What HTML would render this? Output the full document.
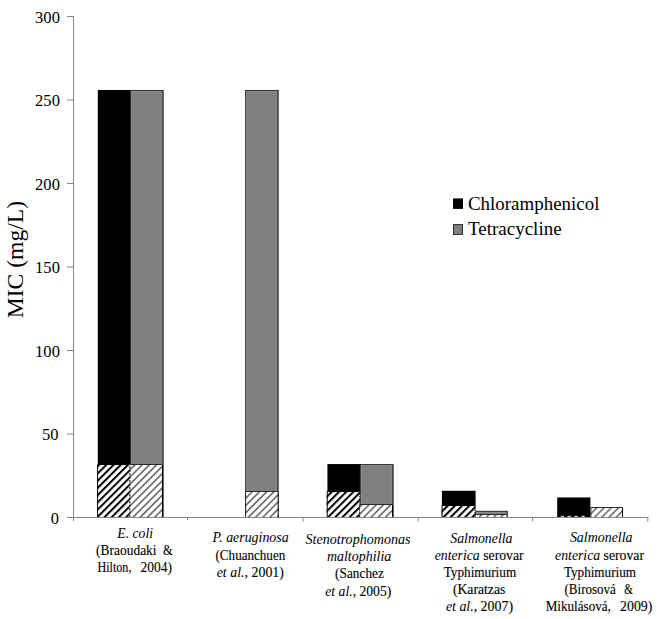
<!DOCTYPE html>
<html><head><meta charset="utf-8"><style>
html,body{margin:0;padding:0;background:#fff;}
svg{display:block;font-family:"Liberation Serif",serif;}
text[id]{stroke:#000;stroke-width:0.12px;}
text[id] tspan[font-style=italic]{stroke:none;}
</style></head><body>
<svg width="663" height="619" viewBox="0 0 663 619">
<defs>
<pattern id="hb" patternUnits="userSpaceOnUse" width="5.1" height="5.1" patternTransform="rotate(-45)">
<rect x="0" y="0" width="5.1" height="2.0" fill="#000"/><rect x="0" y="2.0" width="5.1" height="3.1" fill="#fff"/>
</pattern>
<pattern id="hg" patternUnits="userSpaceOnUse" width="5.1" height="5.1" patternTransform="rotate(-45)">
<rect x="0" y="0" width="5.1" height="1.6" fill="#666"/><rect x="0" y="1.6" width="5.1" height="3.5" fill="#fff"/>
</pattern>
</defs>
<rect width="663" height="619" fill="#fff"/>
<rect x="97.80" y="89.98" width="33.30" height="427.52" fill="#000"/>
<rect x="130.10" y="89.98" width="33.60" height="427.52" fill="#2e2e2e"/>
<rect x="131.10" y="90.98" width="31.20" height="426.52" fill="#8e8e8e"/>
<rect x="132.10" y="91.98" width="29.40" height="425.52" fill="#808080"/>
<rect x="245.10" y="89.98" width="33.60" height="427.52" fill="#2e2e2e"/>
<rect x="246.10" y="90.98" width="31.20" height="426.52" fill="#8e8e8e"/>
<rect x="247.10" y="91.98" width="29.40" height="425.52" fill="#808080"/>
<rect x="327.40" y="464.06" width="33.40" height="53.44" fill="#000"/>
<rect x="359.80" y="464.06" width="33.90" height="53.44" fill="#2e2e2e"/>
<rect x="360.80" y="465.06" width="31.50" height="52.44" fill="#8e8e8e"/>
<rect x="361.80" y="466.06" width="29.70" height="51.44" fill="#808080"/>
<rect x="441.90" y="490.78" width="33.70" height="26.72" fill="#000"/>
<rect x="475.00" y="510.82" width="32.90" height="6.68" fill="#2e2e2e"/>
<rect x="476.00" y="511.82" width="30.50" height="5.68" fill="#8e8e8e"/>
<rect x="477.00" y="512.82" width="28.70" height="4.68" fill="#808080"/>
<rect x="557.20" y="497.46" width="33.20" height="20.04" fill="#000"/>
<rect x="97.10" y="464.00" width="33.30" height="53.50" fill="url(#hb)"/>
<path d="M97.60,517.50V464.50H129.90" fill="none" stroke="#000" stroke-width="1"/>
<path d="M129.90,464.50V517.50" fill="none" stroke="#222" stroke-width="1" stroke-dasharray="1.2 1"/>
<rect x="129.40" y="464.00" width="33.60" height="53.50" fill="url(#hg)"/>
<path d="M129.90,517.50V464.50" fill="none" stroke="#1a1a1a" stroke-width="1" stroke-dasharray="2.5 1"/>
<path d="M129.90,464.50H162.50" fill="none" stroke="#2a2a2a" stroke-width="1"/>
<path d="M162.50,464.50V517.50" fill="none" stroke="#000" stroke-width="1"/>
<rect x="245.10" y="491.00" width="33.60" height="26.50" fill="url(#hg)"/>
<path d="M245.60,517.50V491.50" fill="none" stroke="#1a1a1a" stroke-width="1"/>
<path d="M245.60,491.50H278.20" fill="none" stroke="#2a2a2a" stroke-width="1"/>
<path d="M278.20,491.50V517.50" fill="none" stroke="#000" stroke-width="1"/>
<rect x="326.70" y="491.00" width="33.40" height="26.50" fill="url(#hb)"/>
<path d="M327.20,517.50V491.50H359.60" fill="none" stroke="#000" stroke-width="1"/>
<path d="M359.60,491.50V517.50" fill="none" stroke="#222" stroke-width="1" stroke-dasharray="1.2 1"/>
<rect x="359.10" y="504.00" width="33.90" height="13.50" fill="url(#hg)"/>
<path d="M359.60,517.50V504.50" fill="none" stroke="#1a1a1a" stroke-width="1" stroke-dasharray="2.5 1"/>
<path d="M359.60,504.50H392.50" fill="none" stroke="#2a2a2a" stroke-width="1"/>
<path d="M392.50,504.50V517.50" fill="none" stroke="#000" stroke-width="1"/>
<rect x="441.60" y="505.00" width="33.70" height="12.50" fill="url(#hb)"/>
<path d="M442.10,517.50V505.50H474.80" fill="none" stroke="#000" stroke-width="1"/>
<path d="M474.80,505.50V517.50" fill="none" stroke="#222" stroke-width="1" stroke-dasharray="1.2 1"/>
<rect x="474.70" y="514.00" width="32.90" height="3.50" fill="url(#hg)"/>
<path d="M475.20,517.50V514.50" fill="none" stroke="#1a1a1a" stroke-width="1" stroke-dasharray="2.5 1"/>
<path d="M475.20,514.50H507.10" fill="none" stroke="#2a2a2a" stroke-width="1"/>
<path d="M507.10,514.50V517.50" fill="none" stroke="#000" stroke-width="1"/>
<rect x="590.40" y="507.00" width="32.60" height="10.50" fill="url(#hg)"/>
<path d="M590.90,517.50V507.50" fill="none" stroke="#1a1a1a" stroke-width="1"/>
<path d="M590.90,507.50H622.50" fill="none" stroke="#2a2a2a" stroke-width="1"/>
<path d="M622.50,507.50V517.50" fill="none" stroke="#000" stroke-width="1"/>
<rect x="560.70" y="515.8" width="3.3" height="1" fill="#fff"/>
<rect x="567.60" y="515.8" width="3.3" height="1" fill="#fff"/>
<rect x="574.50" y="515.8" width="3.3" height="1" fill="#fff"/>
<rect x="581.40" y="515.8" width="3.3" height="1" fill="#fff"/>
<line x1="73.5" y1="16" x2="73.5" y2="521" stroke="#868686" stroke-width="1"/>
<line x1="67" y1="517.5" x2="648.3" y2="517.5" stroke="#868686" stroke-width="1"/>
<line x1="67" y1="517.50" x2="73.5" y2="517.50" stroke="#868686" stroke-width="1"/>
<text x="58.9" y="523.60" text-anchor="end" font-size="16" textLength="8.2" lengthAdjust="spacingAndGlyphs">0</text>
<line x1="67" y1="434.00" x2="73.5" y2="434.00" stroke="#868686" stroke-width="1"/>
<text x="58.4" y="440.10" text-anchor="end" font-size="16" textLength="16.4" lengthAdjust="spacingAndGlyphs">50</text>
<line x1="67" y1="350.50" x2="73.5" y2="350.50" stroke="#868686" stroke-width="1"/>
<text x="59.9" y="356.60" text-anchor="end" font-size="16" textLength="24.8" lengthAdjust="spacingAndGlyphs">100</text>
<line x1="67" y1="267.00" x2="73.5" y2="267.00" stroke="#868686" stroke-width="1"/>
<text x="59.9" y="273.10" text-anchor="end" font-size="16" textLength="24.8" lengthAdjust="spacingAndGlyphs">150</text>
<line x1="67" y1="183.50" x2="73.5" y2="183.50" stroke="#868686" stroke-width="1"/>
<text x="59.9" y="189.60" text-anchor="end" font-size="16" textLength="24.8" lengthAdjust="spacingAndGlyphs">200</text>
<line x1="67" y1="100.00" x2="73.5" y2="100.00" stroke="#868686" stroke-width="1"/>
<text x="59.9" y="106.10" text-anchor="end" font-size="16" textLength="24.8" lengthAdjust="spacingAndGlyphs">250</text>
<line x1="67" y1="16.50" x2="73.5" y2="16.50" stroke="#868686" stroke-width="1"/>
<text x="59.9" y="22.60" text-anchor="end" font-size="16" textLength="24.8" lengthAdjust="spacingAndGlyphs">300</text>
<line x1="187.50" y1="517.5" x2="187.50" y2="520.0" stroke="#868686" stroke-width="1"/>
<line x1="303.00" y1="517.5" x2="303.00" y2="521.5" stroke="#868686" stroke-width="1"/>
<line x1="418.10" y1="517.5" x2="418.10" y2="521.5" stroke="#868686" stroke-width="1"/>
<line x1="532.60" y1="517.5" x2="532.60" y2="521.5" stroke="#868686" stroke-width="1"/>
<line x1="647.80" y1="517.5" x2="647.80" y2="521.5" stroke="#868686" stroke-width="1"/>
<text transform="translate(23.2,259.6) rotate(-90)" text-anchor="middle" font-size="23.6">MIC (mg/L)</text>
<rect x="453" y="198.4" width="10" height="10.5" fill="#000"/>
<rect x="453.5" y="224.6" width="9" height="9.8" fill="#808080" stroke="#2a2a2a" stroke-width="1"/>
<text x="468" y="210.2" font-size="18.7" textLength="131.4" lengthAdjust="spacingAndGlyphs">Chloramphenicol</text>
<text x="468" y="234.8" font-size="18.7" textLength="93.6" lengthAdjust="spacingAndGlyphs">Tetracycline</text>
<text id="it0" x="117.31" y="538.30" font-size="13.9" xml:space="preserve" textLength="35.75" lengthAdjust="spacingAndGlyphs"><tspan font-style="italic">E. coli</tspan></text>
<text id="it1" x="96.12" y="555.40" font-size="13.9" xml:space="preserve" textLength="60.45" lengthAdjust="spacingAndGlyphs"><tspan>(Braoudaki</tspan></text>
<text id="it2" x="162.98" y="555.40" font-size="13.9" xml:space="preserve" textLength="9.73" lengthAdjust="spacingAndGlyphs"><tspan>&amp;</tspan></text>
<text id="it3" x="97.50" y="572.30" font-size="13.9" xml:space="preserve" textLength="33.96" lengthAdjust="spacingAndGlyphs"><tspan>Hilton,</tspan></text>
<text id="it4" x="140.52" y="572.30" font-size="13.9" xml:space="preserve" textLength="31.41" lengthAdjust="spacingAndGlyphs"><tspan>2004)</tspan></text>
<text id="it5" x="212.50" y="542.30" font-size="13.9" xml:space="preserve" textLength="76.16" lengthAdjust="spacingAndGlyphs"><tspan font-style="italic">P. aeruginosa</tspan></text>
<text id="it6" x="215.50" y="559.70" font-size="13.9" xml:space="preserve" textLength="69.76" lengthAdjust="spacingAndGlyphs"><tspan>(Chuanchuen</tspan></text>
<text id="it7" x="216.70" y="576.90" font-size="13.9" xml:space="preserve" textLength="67.24" lengthAdjust="spacingAndGlyphs"><tspan font-style="italic">et al.</tspan><tspan>, 2001)</tspan></text>
<text id="it8" x="305.49" y="544.00" font-size="13.9" xml:space="preserve" textLength="104.98" lengthAdjust="spacingAndGlyphs"><tspan font-style="italic">Stenotrophomonas</tspan></text>
<text id="it9" x="326.90" y="561.20" font-size="13.9" xml:space="preserve" textLength="64.37" lengthAdjust="spacingAndGlyphs"><tspan font-style="italic">maltophilia</tspan></text>
<text id="it10" x="335.11" y="578.40" font-size="13.9" xml:space="preserve" textLength="48.77" lengthAdjust="spacingAndGlyphs"><tspan>(Sanchez</tspan></text>
<text id="it11" x="325.30" y="595.60" font-size="13.9" xml:space="preserve" textLength="66.04" lengthAdjust="spacingAndGlyphs"><tspan font-style="italic">et al.</tspan><tspan>, 2005)</tspan></text>
<text id="it12" x="450.30" y="542.50" font-size="13.9" xml:space="preserve" textLength="62.21" lengthAdjust="spacingAndGlyphs"><tspan font-style="italic">Salmonella</tspan></text>
<text id="it13" x="434.70" y="560.20" font-size="13.9" xml:space="preserve" textLength="88.98" lengthAdjust="spacingAndGlyphs"><tspan font-style="italic">enterica</tspan><tspan> serovar</tspan></text>
<text id="it14" x="443.72" y="577.40" font-size="13.9" xml:space="preserve" textLength="72.44" lengthAdjust="spacingAndGlyphs"><tspan>Typhimurium</tspan></text>
<text id="it15" x="452.91" y="594.00" font-size="13.9" xml:space="preserve" textLength="52.40" lengthAdjust="spacingAndGlyphs"><tspan>(Karatzas</tspan></text>
<text id="it16" x="445.90" y="611.20" font-size="13.9" xml:space="preserve" textLength="67.14" lengthAdjust="spacingAndGlyphs"><tspan font-style="italic">et al.</tspan><tspan>, 2007)</tspan></text>
<text id="it17" x="569.90" y="541.90" font-size="13.9" xml:space="preserve" textLength="62.62" lengthAdjust="spacingAndGlyphs"><tspan font-style="italic">Salmonella</tspan></text>
<text id="it18" x="555.10" y="559.70" font-size="13.9" xml:space="preserve" textLength="88.88" lengthAdjust="spacingAndGlyphs"><tspan font-style="italic">enterica</tspan><tspan> serovar</tspan></text>
<text id="it19" x="563.89" y="576.90" font-size="13.9" xml:space="preserve" textLength="72.09" lengthAdjust="spacingAndGlyphs"><tspan>Typhimurium</tspan></text>
<text id="it20" x="564.53" y="594.10" font-size="13.9" xml:space="preserve" textLength="51.35" lengthAdjust="spacingAndGlyphs"><tspan>(Birosová</tspan></text>
<text id="it21" x="624.32" y="594.10" font-size="13.9" xml:space="preserve" textLength="8.65" lengthAdjust="spacingAndGlyphs"><tspan>&amp;</tspan></text>
<text id="it22" x="545.72" y="611.30" font-size="13.9" xml:space="preserve" textLength="65.10" lengthAdjust="spacingAndGlyphs"><tspan>Mikulásová,</tspan></text>
<text id="it23" x="620.10" y="611.30" font-size="13.9" xml:space="preserve" textLength="32.32" lengthAdjust="spacingAndGlyphs"><tspan>2009)</tspan></text>
</svg>
</body></html>
